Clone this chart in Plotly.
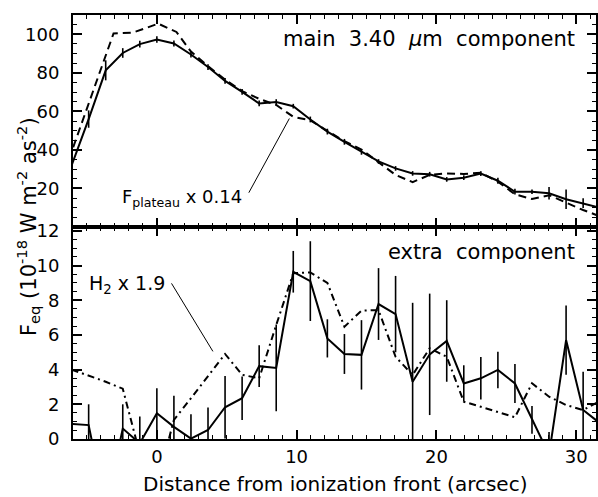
import plotly.graph_objects as go

# ---------------- data ----------------
pos = [-6.10, -4.88, -3.66, -2.44, -1.22, 0.00, 1.22, 2.44, 3.66, 4.88, 6.10,
       7.32, 8.54, 9.76, 10.98, 12.20, 13.42, 14.64, 15.86, 17.08, 18.30,
       19.52, 20.74, 21.96, 23.18, 24.40, 25.62, 26.84, 28.06, 29.28, 30.50, 31.72]

main_val = [32, 56, 81.3, 90.3, 94.9, 97.3, 95.2, 89.5, 83, 75.8, 70.1,
            64.1, 64.8, 62.7, 55.8, 49.5, 44.2, 39, 34, 30.4, 27.8,
            27.4, 24.7, 25.6, 27.7, 24, 18.3, 18.3, 17.5, 14.4, 12.4, 10.0]
main_err = [3, 4.5, 5.2, 2.5, 1.7, 1.7, 1.6, 1.5, 1.5, 1.5, 1.5,
            1.5, 1.5, 1.2, 1.5, 1.5, 1.5, 1.5, 1.2, 1.2, 1.2,
            1.2, 1.2, 1.2, 1.2, 1.5, 1.5, 1.2, 3.2, 5.0, 2.5, 2.5]

plateau_x = [-6.30, -3.10, -1.70, 0.10, 1.40, 2.44, 3.66, 4.88, 6.10,
             7.32, 8.54, 9.76, 10.98, 12.20, 13.42, 14.64, 15.86, 17.08, 18.30,
             19.52, 20.74, 21.96, 23.18, 24.40, 25.62, 26.84, 28.06, 29.28, 30.50, 31.72]
plateau_val = [35, 100.4, 100.9, 105.5, 101.2, 91, 83.5, 76.5, 70.5,
               66.5, 63.3, 57.2, 55.3, 50.0, 44.5, 40.2, 33.5, 27, 23.3,
               27, 27.8, 27.5, 28.2, 23.5, 17, 14.5, 16.5, 12.5, 8.8, 5.5]

extra_val = [0.87, 0.8, -4.0, 0.6, -0.25, 1.48, 0.7, 0.02, 0.52, 1.83, 2.35,
             4.2, 4.1, 9.64, 9.1, 5.8, 4.9, 4.85, 7.78, 7.2, 3.3,
             4.88, 5.65, 3.2, 3.5, 3.98, 3.2, 1.1, -0.9, 5.7, 1.67, 0.9]
extra_err = [1.2, 1.2, 1.5, 1.4, 1.55, 1.45, 1.8, 1.4, 1.3, 1.8, 1.25,
             1.2, 2.5, 1.2, 2.3, 1.1, 1.15, 2.0, 2.07, 2.2, 4.55,
             3.5, 2.35, 1.05, 1.22, 1.05, 1.12, 0.8, 1.3, 2.0, 2.2, 1.0]

h2_val = [4.0, 3.65, 3.3, 2.9, -0.85, -2.6, 1.1, 2.35, 3.6, 4.9, 3.7,
          3.5, 6.57, 9.55, 9.6, 9.0, 6.47, 7.4, 7.43, 4.74, 3.69,
          5.23, 4.74, 2.15, 1.86, 1.57, 1.25, 3.21, 2.44, 1.96, 1.67, 2.2]

x_ticks = [0, 10, 20, 30]
top_ticks = [20, 40, 60, 80, 100]
bottom_ticks = [0, 2, 4, 6, 8, 10, 12]

# ---------------- figure ----------------
FONT = "DejaVu Sans"
NB = "\u00a0"
fig = go.Figure()

# top panel
fig.add_trace(go.Scatter(x=plateau_x, y=plateau_val, mode="lines",
                         line=dict(color="black", width=2, dash="8px,5px"),
                         xaxis="x2", yaxis="y2", showlegend=False))
fig.add_trace(go.Scatter(x=pos, y=main_val, mode="lines",
                         line=dict(color="black", width=2),
                         error_y=dict(type="data", array=main_err, visible=True,
                                      thickness=1.6, width=0, color="black"),
                         xaxis="x2", yaxis="y2", showlegend=False))

# bottom panel
fig.add_trace(go.Scatter(x=pos, y=h2_val, mode="lines",
                         line=dict(color="black", width=2, dash="7px,4px,2px,4px"),
                         xaxis="x", yaxis="y", showlegend=False))
fig.add_trace(go.Scatter(x=pos, y=extra_val, mode="lines",
                         line=dict(color="black", width=2),
                         error_y=dict(type="data", array=extra_err, visible=True,
                                      thickness=1.6, width=0, color="black"),
                         xaxis="x", yaxis="y", showlegend=False))

axis_common = dict(showline=True, linewidth=2, linecolor="black", mirror="ticks",
                   ticks="inside", ticklen=9, tickwidth=1.5, tickcolor="black",
                   showgrid=False, zeroline=False,
                   tickfont=dict(family=FONT, size=18, color="black"))

fig.update_layout(
    width=598, height=497,
    margin=dict(l=73, r=0, t=15, b=58),
    paper_bgcolor="white", plot_bgcolor="white",
    font=dict(family=FONT, color="black"),
    xaxis=dict(domain=[0, 1], range=[-6.0, 31.42], anchor="y",
               tickvals=x_ticks, ticklabelstandoff=0,
               minor=dict(dtick=1, tick0=0, ticks="inside", ticklen=4,
                          tickwidth=1, tickcolor="black"),
               **axis_common),
    xaxis2=dict(domain=[0, 1], range=[-6.0, 31.42], anchor="y2", matches="x",
                tickvals=x_ticks, showticklabels=False,
                minor=dict(dtick=1, tick0=0, ticks="inside", ticklen=4,
                           tickwidth=1, tickcolor="black"),
                **axis_common),
    yaxis=dict(domain=[0, 0.5], range=[0, 12.22], anchor="x",
               tickvals=bottom_ticks, ticklabelstandoff=8,
               minor=dict(dtick=0.5, tick0=0, ticks="inside", ticklen=4,
                          tickwidth=1, tickcolor="black"),
               **axis_common),
    yaxis2=dict(domain=[0.5, 1], range=[0, 110], anchor="x2",
                tickvals=top_ticks, ticklabelstandoff=8,
                minor=dict(dtick=5, tick0=0, ticks="inside", ticklen=4,
                           tickwidth=1, tickcolor="black"),
                **axis_common),
)

ann_font = dict(family=FONT, size=21, color="black")
fig.add_annotation(text=f"main{NB}{NB}3.40{NB}{NB}<i>μ</i>m{NB}{NB}component", xref="x2", yref="y2",
                   x=30.08, y=97.7, xanchor="right", yanchor="middle",
                   showarrow=False, font=ann_font)
fig.add_annotation(text=f"extra{NB}{NB}component", xref="x", yref="y",
                   x=30.08, y=10.8, xanchor="right", yanchor="middle",
                   showarrow=False, font=ann_font)
fig.add_annotation(text="F<sub>plateau</sub> x 0.14", xref="x2", yref="y2",
                   x=-2.64, y=15.1, xanchor="left", yanchor="middle",
                   showarrow=False, font=dict(family=FONT, size=18, color="black"))
fig.add_annotation(text="H<sub>2</sub> x 1.9", xref="x", yref="y",
                   x=-5.01, y=8.9, xanchor="left", yanchor="middle",
                   showarrow=False, font=dict(family=FONT, size=19, color="black"))
fig.add_annotation(text="Distance from ionization front (arcsec)", xref="paper", yref="paper",
                   x=0.501, y=-0.106, xanchor="center", yanchor="middle", borderpad=0,
                   showarrow=False, font=dict(family=FONT, size=20, color="black"))
fig.add_annotation(text="F<sub>eq</sub> (10<sup>-18</sup> W m<sup>-2</sup> as<sup>-2</sup>)",
                   xref="paper", yref="paper", x=-0.086, y=0.5, textangle=-90,
                   xanchor="center", yanchor="middle",
                   showarrow=False, font=dict(family=FONT, size=21, color="black"))

fig.add_shape(type="line", xref="x2", yref="y2", x0=6.58, y0=17.8, x1=9.48, y1=56.3,
              line=dict(color="black", width=1))
fig.add_shape(type="line", xref="x", yref="y", x0=1.05, y0=8.97, x1=4.01, y1=5.05,
              line=dict(color="black", width=1))

fig.write_html("out.html")
